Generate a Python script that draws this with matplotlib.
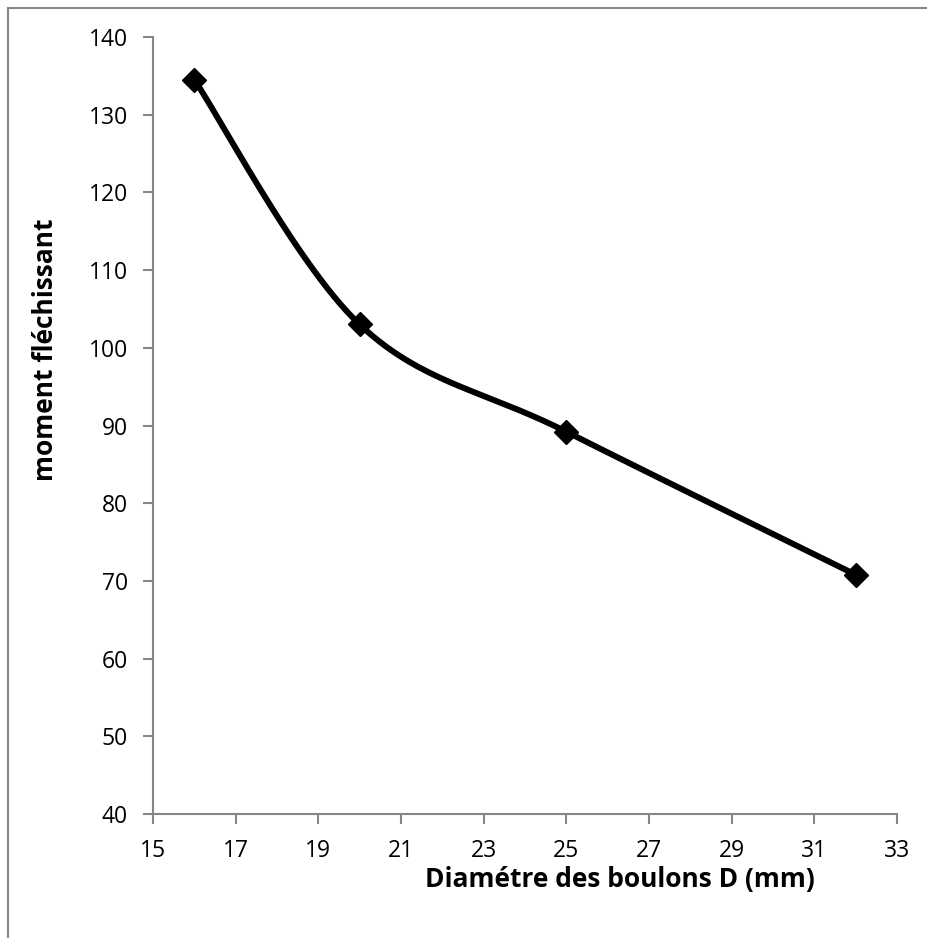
import numpy as np
import matplotlib
matplotlib.use("Agg")
import matplotlib.pyplot as plt
from matplotlib.patches import Rectangle

# Bolt diameter (mm) vs bending moment
diameters = [16, 20, 25, 32]
moments = [134.5, 103.0, 89.2, 70.8]

x_ticks = [15, 17, 19, 21, 23, 25, 27, 29, 31, 33]
y_ticks = [40, 50, 60, 70, 80, 90, 100, 110, 120, 130, 140]


def smooth_curve(xs, ys, n=60):
    """Cubic Bezier spline through the points (Catmull-Rom style tangents)."""
    p = np.column_stack([xs, ys]).astype(float)
    out = []
    for i in range(len(p) - 1):
        p0 = p[i - 1] if i > 0 else p[i]
        p1, p2 = p[i], p[i + 1]
        p3 = p[i + 2] if i + 2 < len(p) else p[i + 1]
        c1 = p1 + (p2 - p0) / 6.0
        c2 = p2 - (p3 - p1) / 6.0
        t = np.linspace(0, 1, n)[:, None]
        seg = ((1 - t) ** 3) * p1 + 3 * ((1 - t) ** 2) * t * c1 + 3 * (1 - t) * t ** 2 * c2 + t ** 3 * p2
        out.append(seg if i == 0 else seg[1:])
    s = np.vstack(out)
    return s[:, 0], s[:, 1]


plt.rcParams['font.family'] = ['Open Sans', 'DejaVu Sans']

fig = plt.figure(figsize=(9.28, 9.38), dpi=100)
W, H = 928, 938
ax = fig.add_axes([153 / W, 1 - 814 / H, (897 - 153) / W, (814 - 37) / H])

sx, sy = smooth_curve(diameters, moments)
ax.plot(sx, sy, color='black', lw=4.3, solid_capstyle='round', zorder=3)
ax.plot(diameters, moments, ls='none', marker='D', ms=12, color='black', zorder=4)

ax.set_xlim(15, 33)
ax.set_ylim(40, 140)
ax.set_xticks(x_ticks)
ax.set_yticks(y_ticks)

axis_gray = '#868686'
for side in ('top', 'right'):
    ax.spines[side].set_visible(False)
for side in ('left', 'bottom'):
    ax.spines[side].set_color(axis_gray)
    ax.spines[side].set_linewidth(1.5)
ax.tick_params(axis='both', direction='out', length=7, width=1.5, color=axis_gray,
               labelsize=16.5, labelcolor='black')
ax.tick_params(axis='x', pad=11)
ax.tick_params(axis='y', pad=11)

fig.text(620 / W, 1 - 879 / H, 'Diamétre des boulons D (mm)', ha='center', va='center',
         fontsize=19, fontweight='bold')
fig.text(46 / W, 1 - 350 / H, 'moment fléchissant', ha='center', va='center',
         rotation=90, fontsize=19, fontweight='bold')

# chart area frame
fig.patches.append(Rectangle((8 / W, -0.1), 1.2, 1 - 8 / H + 0.1, transform=fig.transFigure,
                             fill=False, edgecolor='#878787', lw=1.5))

fig.savefig('out.png', dpi=100)
